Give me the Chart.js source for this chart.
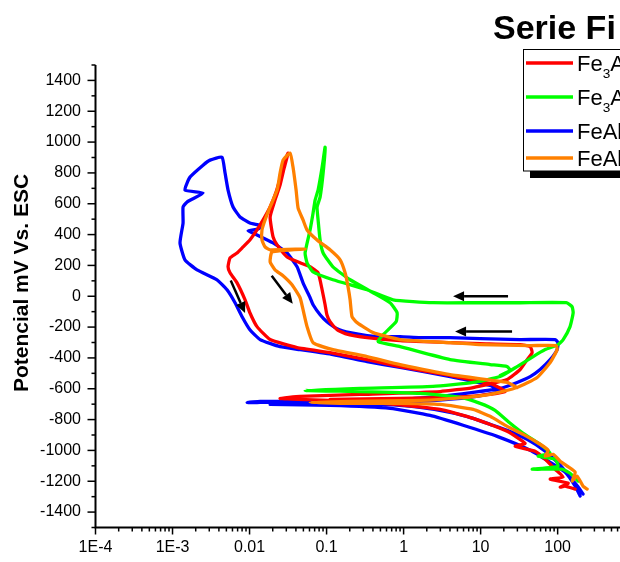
<!DOCTYPE html>
<html>
<head>
<meta charset="utf-8">
<script src="https://cdn.jsdelivr.net/npm/chart.js@4.4.1/dist/chart.umd.min.js"></script>
<style>
html,body{margin:0;padding:0;background:#fff;overflow:hidden}
canvas{display:block}
</style>
</head>
<body>
<canvas id="c" width="620" height="562"></canvas>
<script>
// ---------------- data ----------------
const chartTitle = 'Serie Fi';
const yAxisTitle = 'Potencial mV Vs. ESC';
const seriesLabels = ['Fe3Al', 'Fe3Al', 'FeAl', 'FeAl'];

const xRange = [1e-4, 645];
const yRange = [-1500, 1500];
const xTickValues = [1e-4, 1e-3, 0.01, 0.1, 1, 10, 100];
const xTickLabels = ['1E-4', '1E-3', '0.01', '0.1', '1', '10', '100'];
const yTickValues = [-1400, -1200, -1000, -800, -600, -400, -200, 0, 200, 400, 600, 800, 1000, 1200, 1400];

// current density (x) and potential in mV (y)
const redCurrent = [169,125,108,137,80.0,118,92.9,68.9,51.0,28.1,37.8,22.1,8.0,2.98,0.542,0.111,0.0427,0.0249,
  0.0453,0.272,2.98,8.0,22.1,32.6,40.2,46.7,44.0,
  32.6,9.86,4.02,0.902,0.336,0.174,0.137,0.111,0.101,0.0957,0.0875,0.0776,0.0611,0.0453,0.0307,0.0228,0.0202,0.0185,0.0214,0.0249,0.0281,0.0316,
  0.0289,0.0256,0.0221,0.0185,0.0150,0.0125,0.0101,0.00824,0.00688,0.00558,0.00526,0.00558,0.00688,0.00875,0.0101,0.0125,0.0185,0.0414,0.111,0.336,0.902,4.02,13.3,20.8,7.31,0.902,0.111];
const redPotential = [-1251,-1232,-1238,-1212,-1186,-1173,-1122,-1057,-1005,-973,-954,-876,-792,-734,-695,-676,-669,-663,
  -650,-637,-618,-592,-540,-475,-411,-365,-327,
  -314,-307,-301,-288,-268,-242,-217,-165,-120,-55,42,152,191,217,255,333,385,514,624,721,831,928,
  883,786,676,579,495,430,365,320,281,249,191,152,87,-23,-107,-197,-281,-333,-365,-411,-456,-514,-566,-618,-650,-663,-669];

const greenCurrent = [185,145,114,46.7,101,92.9,55.9,80.0,59.3,35.7,24.2,15.4,9.86,5.42,1.64,0.272,0.0526,
  0.272,2.41,8.0,17.9,29.8,48.1,68.9,101,118,145,159,154,129,32.6,9.86,2.41,0.731,0.336,0.121,0.0668,0.0558,0.0526,0.0611,0.0668,0.071,0.0776,0.0875,0.0957,
  0.0902,0.0824,0.0753,0.0776,0.0824,0.0902,0.121,0.202,0.402,0.668,0.824,0.80,0.542,0.467,0.902,4.02,13.3,22.1,24.2,17.9];
const greenPotential = [-1199,-1148,-1122,-1122,-1102,-1057,-1038,-1018,-960,-889,-824,-740,-695,-656,-630,-618,-611,
  -598,-585,-559,-521,-456,-391,-346,-314,-281,-197,-107,-68,-42,-42,-42,-42,-23,42,107,158,217,281,430,540,624,689,837,967,
  799,643,579,495,365,281,191,107,23,-42,-107,-165,-249,-294,-327,-411,-443,-456,-482,-514];

const blueCurrent = [214,185,145,108,68.9,40.2,22.1,13.3,8.0,4.02,1.64,0.542,0.150,0.0453,0.0137,0.00929,
  0.0137,0.0453,0.542,2.98,8.0,17.9,29.8,44.0,59.3,80.0,98.6,101,
  92.9,32.6,9.86,4.02,1.64,0.902,0.542,0.336,0.202,0.137,0.101,0.0824,0.0668,0.0611,0.0495,0.0414,0.0307,0.0202,0.0125,0.00957,0.0129,0.0145,0.0101,0.00753,0.00611,0.00526,0.00481,0.00439,
  0.00307,0.00249,0.00169,0.00145,0.00249,0.00154,0.00137,0.00137,0.00125,0.00145,0.00208,0.00378,0.0051,0.00648,0.0080,0.0101,0.0137,0.0249,0.0453,0.121,0.336,0.902,4.02,13.3,17.9,7.31,1.64,0.111,0.0185,
  0.111,0.668,2.21,5.93,16.4,44.0,80.0,125,169,196];
const bluePotential = [-1283,-1238,-1173,-1096,-1005,-928,-870,-831,-792,-753,-721,-702,-695,-689,-689,-689,
  -682,-682,-676,-650,-624,-598,-559,-521,-475,-411,-346,-301,
  -281,-281,-275,-268,-268,-262,-262,-255,-236,-210,-165,-120,-55,-10,87,191,281,346,398,424,436,456,475,514,579,689,799,902,
  883,850,773,689,669,611,579,475,346,236,171,107,42,-42,-133,-217,-281,-327,-346,-378,-424,-462,-521,-579,-618,-656,-682,-695,-702,
  -708,-727,-773,-837,-909,-999,-1077,-1141,-1232,-1296];

const orangeCurrent = [242,214,179,154,169,133,108,87.5,68.9,75.3,59.3,35.7,22.1,13.3,8.0,2.98,0.902,0.202,0.0611,
  0.202,1.64,6.68,13.3,29.8,54.2,80.0,98.6,95.6,
  44.0,9.86,4.02,0.902,0.402,0.249,0.214,0.202,0.190,0.174,0.150,0.111,0.0753,0.0558,0.0495,0.0427,0.0402,0.0367,0.0336,
  0.0272,0.0249,0.0228,0.0185,0.0159,0.0145,0.0145,0.0159,0.0185,0.0526,0.0196,0.0185,0.0214,0.0272,0.0356,0.0453,0.0495,0.0558,0.0668,0.121,0.336,0.902,4.02,22.1,29.8];
const orangePotential = [-1251,-1232,-1167,-1199,-1141,-1102,-1070,-1025,-1038,-999,-960,-896,-844,-779,-734,-702,-695,-695,-689,
  -682,-676,-656,-637,-592,-527,-430,-346,-320,
  -320,-314,-301,-281,-236,-171,-133,-23,61,152,236,301,365,430,495,572,689,837,928,
  883,799,689,579,495,430,365,320,301,307,288,223,171,133,74,-10,-87,-197,-301,-346,-391,-443,-508,-559,-592];

// scan-direction arrows (data coordinates)
const arrowFromX = [22.7, 25.6, 0.0057, 0.0194];
const arrowFromY = [0, -228, 102, 133];
const arrowToX = [4.39, 4.66, 0.00875, 0.0364];
const arrowToY = [0, -228, -109, -49];

// ---------------- chart ----------------
const FONT = '"Liberation Sans", Arial, Helvetica, sans-serif';
const zip = (xs, ys) => xs.map((v, i) => ({x: v, y: ys[i]}));
const colors = ['#ff0000', '#00ff00', '#0000ff', '#ff8000'];
const seriesData = [zip(redCurrent, redPotential), zip(greenCurrent, greenPotential),
                    zip(blueCurrent, bluePotential), zip(orangeCurrent, orangePotential)];
const drawOrder = [2, 1, 3, 0];

const datasets = seriesData.map((d, i) => ({
  label: seriesLabels[i], data: d, showLine: true, borderColor: colors[i], backgroundColor: colors[i],
  borderWidth: 3.3, pointRadius: 0, tension: 0.15, fill: false, order: drawOrder[i],
  borderJoinStyle: 'round', borderCapStyle: 'round'
}));

function drawArrow(ctx, x1, y1, x2, y2) {
  const a = Math.atan2(y2 - y1, x2 - x1), hl = 11, hw = 5;
  const bx = x2 - hl * Math.cos(a), by = y2 - hl * Math.sin(a);
  ctx.beginPath(); ctx.moveTo(x1, y1); ctx.lineTo(bx, by); ctx.stroke();
  ctx.beginPath(); ctx.moveTo(x2, y2);
  ctx.lineTo(bx + hw * Math.sin(a), by - hw * Math.cos(a));
  ctx.lineTo(bx - hw * Math.sin(a), by + hw * Math.cos(a));
  ctx.closePath(); ctx.fill();
}

function drawLabel(ctx, text, x, y, size) {
  // digits rendered as subscripts
  let cx = x;
  for (const ch of text) {
    if (/[0-9]/.test(ch)) {
      ctx.font = (size * 0.62) + 'px ' + FONT;
      ctx.fillText(ch, cx, y + size * 0.29);
    } else {
      ctx.font = size + 'px ' + FONT;
      ctx.fillText(ch, cx, y);
    }
    cx += ctx.measureText(ch).width;
  }
}

const decor = {
  id: 'decor',
  beforeDatasetsDraw(chart) {
    const {ctx, chartArea: a, scales: {x, y}} = chart;
    ctx.save();
    ctx.strokeStyle = '#000';
    ctx.lineWidth = 2;
    ctx.beginPath();
    ctx.moveTo(a.left, a.top); ctx.lineTo(a.left, a.bottom); ctx.lineTo(chart.width + 5, a.bottom);
    ctx.stroke();
    ctx.lineWidth = 1.5;
    for (let v = yRange[0]; v <= yRange[1]; v += 100) {
      const py = y.getPixelForValue(v);
      const len = yTickValues.includes(v) ? 8 : 4;
      ctx.beginPath(); ctx.moveTo(a.left - len, py); ctx.lineTo(a.left, py); ctx.stroke();
    }
    for (let e = -4; e <= 3; e++) {
      for (let m = 1; m <= 9; m++) {
        const v = m * Math.pow(10, e);
        if (v < xRange[0] * 0.999 || v > xRange[1]) continue;
        const px = x.getPixelForValue(v);
        const len = m === 1 ? 7 : 4;
        ctx.beginPath(); ctx.moveTo(px, a.bottom); ctx.lineTo(px, a.bottom + len); ctx.stroke();
      }
    }
    ctx.restore();
  },
  afterDraw(chart) {
    const {ctx, scales: {x, y}} = chart;
    ctx.save();
    // arrows
    ctx.strokeStyle = '#000'; ctx.fillStyle = '#000'; ctx.lineWidth = 2.5;
    for (let i = 0; i < arrowFromX.length; i++) {
      drawArrow(ctx, x.getPixelForValue(arrowFromX[i]), y.getPixelForValue(arrowFromY[i]),
                x.getPixelForValue(arrowToX[i]), y.getPixelForValue(arrowToY[i]));
    }
    // title
    ctx.fillStyle = '#000';
    ctx.font = 'bold 34px ' + FONT;
    ctx.textBaseline = 'alphabetic';
    ctx.textAlign = 'left';
    ctx.fillText(chartTitle, 493, 39);
    // y axis title
    ctx.save();
    ctx.translate(22, 283);
    ctx.rotate(-Math.PI / 2);
    ctx.font = 'bold 21px ' + FONT;
    ctx.textAlign = 'center';
    ctx.textBaseline = 'middle';
    ctx.fillText(yAxisTitle, 0, 0);
    ctx.restore();
    // legend with shadow
    ctx.fillStyle = '#000';
    ctx.fillRect(530, 56, 200, 122);
    ctx.fillStyle = '#fff';
    ctx.fillRect(523, 49, 200, 122);
    ctx.strokeStyle = '#000'; ctx.lineWidth = 1;
    ctx.strokeRect(523.5, 49.5, 200, 121.5);
    let ry = 63;
    chart.data.datasets.forEach((ds, i) => {
      ctx.strokeStyle = ds.borderColor; ctx.lineWidth = 3.5;
      ctx.beginPath(); ctx.moveTo(526, ry); ctx.lineTo(573, ry); ctx.stroke();
      ctx.fillStyle = '#000';
      ctx.textAlign = 'left'; ctx.textBaseline = 'alphabetic';
      drawLabel(ctx, ds.label, 577, ry + 8.2, 22);
      ry += /[0-9]/.test(ds.label) ? 34 : 27;
    });
    ctx.restore();
  }
};

new Chart(document.getElementById('c'), {
  type: 'scatter',
  data: {datasets},
  plugins: [decor],
  options: {
    responsive: false, animation: false, devicePixelRatio: 1, events: [],
    layout: {padding: {top: 65, left: 0, right: 0, bottom: 0}},
    plugins: {legend: {display: false}, tooltip: {enabled: false}, title: {display: false}},
    scales: {
      x: {
        type: 'logarithmic', min: xRange[0], max: xRange[1],
        afterBuildTicks: s => { s.ticks = xTickValues.map(v => ({value: v})); },
        afterFit: s => { s.height = 34.5; },
        grid: {display: false, drawTicks: false}, border: {display: false},
        ticks: {autoSkip: false, maxRotation: 0, minRotation: 0, padding: 10, color: '#000',
                font: {family: FONT, size: 16}, callback: (v, i) => xTickLabels[i]}
      },
      y: {
        type: 'linear', min: yRange[0], max: yRange[1],
        afterBuildTicks: s => { s.ticks = yTickValues.map(v => ({value: v})); },
        afterFit: s => { s.width = 95.5; },
        grid: {display: false, drawTicks: false}, border: {display: false},
        ticks: {autoSkip: false, padding: 14.5, color: '#000',
                font: {family: FONT, size: 16}, callback: v => String(v)}
      }
    }
  }
});
</script>
</body>
</html>
